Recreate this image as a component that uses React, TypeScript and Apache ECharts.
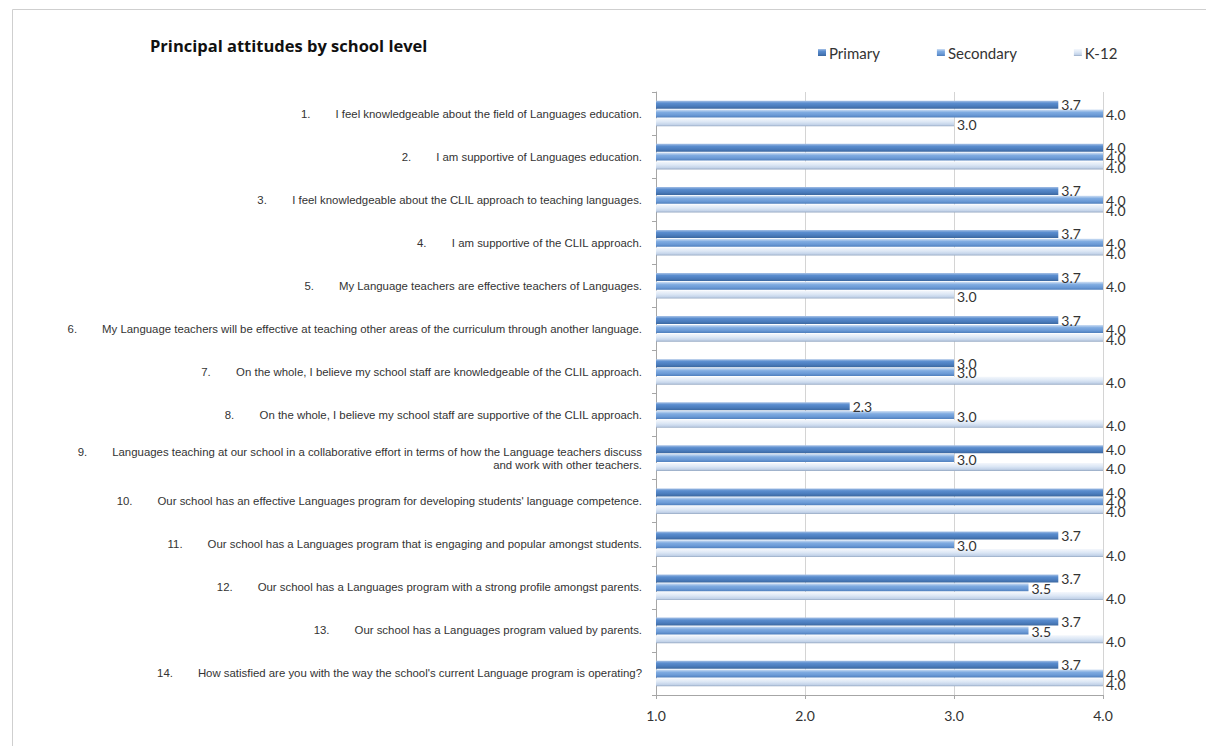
import React, { useEffect, useRef } from "react";
import * as echarts from "echarts";

const itemNumbers = ["1", "2", "3", "4", "5", "6", "7", "8", "9", "10", "11", "12", "13", "14"];
const statements = [
  "I feel knowledgeable about the field of Languages education.",
  "I am supportive of Languages education.",
  "I feel knowledgeable about the CLIL approach to teaching languages.",
  "I am supportive of the CLIL approach.",
  "My Language teachers are effective teachers of Languages.",
  "My Language teachers will be effective at teaching other areas of the curriculum through another language.",
  "On the whole, I believe my school staff are knowledgeable of the CLIL approach.",
  "On the whole, I believe my school staff are supportive of the CLIL approach.",
  "Languages teaching at our school in a collaborative effort in terms of how the Language teachers discuss\nand work with other teachers.",
  "Our school has an effective Languages program for developing students' language competence.",
  "Our school has a Languages program that is engaging and popular amongst students.",
  "Our school has a Languages program with a strong profile amongst parents.",
  "Our school has a Languages program valued by parents.",
  "How satisfied are you with the way the school's current Language program is operating?",
];
const seriesNames = ["Primary", "Secondary", "K-12"];
const primary = [3.7, 4.0, 3.7, 3.7, 3.7, 3.7, 3.0, 2.3, 4.0, 4.0, 3.7, 3.7, 3.7, 3.7];
const secondary = [4.0, 4.0, 4.0, 4.0, 4.0, 4.0, 3.0, 3.0, 3.0, 4.0, 3.0, 3.5, 3.5, 4.0];
const k12 = [3.0, 4.0, 4.0, 4.0, 3.0, 4.0, 4.0, 4.0, 4.0, 4.0, 4.0, 4.0, 4.0, 4.0];
const xTicks = [1, 2, 3, 4];

const VALUE_FONT = "Lato, 'Open Sans', sans-serif";
const CAT_FONT = "'Liberation Sans', Arial, sans-serif";

function grad(stops: [number, string][]) {
  return new echarts.graphic.LinearGradient(
    0, 0, 0, 1,
    stops.map(([offset, color]) => ({ offset, color }))
  );
}

export default function App() {
  const ref = useRef<HTMLDivElement>(null);
  useEffect(() => {
    if (!ref.current) return;
    const chart = echarts.init(ref.current, null, { renderer: "svg" });
    const categories = statements.map((s, i) => {
      const lines = s.split("\n");
      const first = `{n|${itemNumbers[i]}.}{t|${lines[0]}}`;
      const rest = lines.slice(1).map((l) => `{t|${l}}`);
      return [first, ...rest].join("\n");
    });
    const colors = [
      grad([[0, "#a8c2e6"], [0.3, "#5a8dcf"], [0.7, "#4a7bbb"], [1, "#3b679f"]]),
      grad([[0, "#d0e0f4"], [0.35, "#7fabe1"], [0.7, "#6b9ad6"], [1, "#4f7fbd"]]),
      grad([[0, "#f4f7fc"], [0.45, "#dce7f5"], [0.8, "#c3d3e9"], [1, "#95a8c2"]]),
    ];
    const offsets = [[0, 0], [0, 1], [0, 2]];
    const dataSets = [primary, secondary, k12];
    const series = seriesNames.map((name, i) => ({
      name,
      type: "bar",
      data: dataSets[i],
      barWidth: 8,
      barGap: "10%",
      itemStyle: { color: colors[i] },
      label: {
        show: true,
        position: "right",
        distance: 3,
        offset: offsets[i],
        formatter: (p: any) => Number(p.value).toFixed(1),
        fontFamily: VALUE_FONT,
        fontSize: 14,
        color: "#333",
      },
    }));
    chart.setOption({
      animation: false,
      backgroundColor: "#ffffff",
      title: {
        text: "Principal attitudes by school level",
        left: 145,
        top: 32,
        textStyle: {
          fontFamily: "'Open Sans', sans-serif",
          fontWeight: "bold",
          fontSize: 16.5,
          color: "#111",
        },
      },
      legend: {
        left: 818,
        top: 45,
        padding: 0,
        itemWidth: 8,
        itemHeight: 7,
        itemGap: 57,
        icon: "rect",
        textStyle: { fontFamily: VALUE_FONT, fontSize: 15, color: "#333", padding: [0, 0, 0, -2] },
        data: seriesNames,
      },
      graphic: [
        {
          type: "rect",
          shape: { x: 12.5, y: 9.5, width: 1400, height: 1000 },
          style: { fill: "none", stroke: "#cfcfcf", lineWidth: 1 },
          silent: true,
          z: -10,
        },
      ],
      grid: { left: 656, top: 92, width: 447, height: 603, containLabel: false },
      xAxis: {
        type: "value",
        min: xTicks[0],
        max: xTicks[xTicks.length - 1],
        interval: 1,
        axisLine: { show: true, lineStyle: { color: "#a6a6a6" } },
        axisTick: { show: true, length: 4, lineStyle: { color: "#a6a6a6" } },
        splitLine: { show: true, lineStyle: { color: "#d4d4d4" } },
        axisLabel: {
          margin: 13,
          formatter: (v: number) => v.toFixed(1),
          fontFamily: VALUE_FONT,
          fontSize: 14,
          color: "#333",
        },
      },
      yAxis: {
        type: "category",
        inverse: true,
        data: categories,
        axisLine: { show: true, lineStyle: { color: "#a6a6a6" } },
        axisTick: { show: true, length: 4, lineStyle: { color: "#a6a6a6" } },
        splitLine: { show: false },
        axisLabel: {
          margin: 14,
          interval: 0,
          color: "#333",
          fontFamily: CAT_FONT,
          fontSize: 11.4,
          lineHeight: 13,
          rich: {
            n: { fontFamily: CAT_FONT, fontSize: 11.4, color: "#333", padding: [0, 25, 0, 0] },
            t: { fontFamily: CAT_FONT, fontSize: 11.4, color: "#333" },
          },
        },
      },
      series,
    });
    return () => chart.dispose();
  }, []);
  return (
    <div
      ref={ref}
      style={{ position: "fixed", left: 0, top: 0, width: 1206, height: 746, background: "#fff" }}
    />
  );
}
